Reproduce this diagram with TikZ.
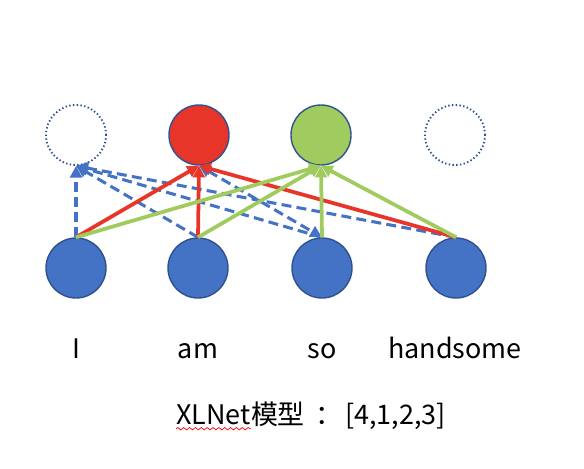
\documentclass[tikz,border=0pt]{standalone}
\usepackage{fontspec}
\setmainfont{Noto Sans CJK SC}
\usetikzlibrary{arrows.meta,decorations.pathmorphing}
\definecolor{tokblue}{HTML}{4472C4}
\definecolor{rimblue}{HTML}{2F528F}
\definecolor{predred}{HTML}{E8352A}
\definecolor{predgreen}{HTML}{A0CB5E}

\begin{document}
\begin{tikzpicture}[
    x=0.03cm, y=-0.03cm,
    tok/.style={circle, minimum size=1.8cm, inner sep=0pt, draw=rimblue, line width=1.2pt},
    hidden/.style={tok, draw=rimblue, dotted, line width=1.6pt},
    word/.style={font=\fontsize{23}{27}\selectfont, anchor=base},
    attn/.style={line width=3.2pt, -{Triangle[length=10pt, width=10pt]}},
    blueline/.style={tokblue, line width=2.6pt, dash pattern=on 8.5pt off 4.5pt,
                     -{Triangle[length=10pt, width=10pt]}}
]
\useasboundingbox (0,0) rectangle (584,468);

% =========================================================
% top row: predictions
% =========================================================
\node[hidden] (t1) at (76,135) {};
\node[tok, fill=predred] (t2) at (199,135) {};
\node[tok, fill=predgreen] (t3) at (321,135) {};
\node[hidden] (t4) at (455,135) {};

% =========================================================
% bottom row: input tokens
% =========================================================
\node[tok, fill=tokblue] (b1) at (76,268) {};
\node[tok, fill=tokblue] (b2) at (198,268) {};
\node[tok, fill=tokblue] (b3) at (322,268) {};
\node[tok, fill=tokblue] (b4) at (456,268) {};

% dashed links into the first position
\draw[blueline] (b1.north) -- (t1.south);
\draw[blueline] (b2.north) -- (t1.south);
\draw[blueline] (b3.north) -- (t1.south);
\draw[blueline] (b4.north) -- (t1.south);
\draw[blueline, {Triangle[length=10pt, width=10pt]}-{Triangle[length=10pt, width=10pt]}]
      (t2.south) -- (b3.north);

% red links
\draw[attn, predred] (b1.north) -- (t2.south);
\draw[attn, predred] (b2.north) -- (t2.south);
\draw[attn, predred] (b4.north) -- (t2.south);

% green links
\draw[attn, predgreen] (b1.north) -- (t3.south);
\draw[attn, predgreen] (b2.north) -- (t3.south);
\draw[attn, predgreen] (b3.north) -- (t3.south);
\draw[attn, predgreen] (b4.north) -- (t3.south);

% words under the tokens
\node[word] (w1) at (76,358) {I};
\node[word] (w2) at (198,358) {am};
\node[word] (w3) at (322,358) {so};
\node[word] (w4) at (455,358) {handsome};

% caption, with the red wavy mark under XLNet
\node[word, anchor=base west, inner sep=0pt] (capxl) at (176,424) {XLNet};
\node[word, anchor=base west, inner sep=0pt] (caprest) at (capxl.base east)
      {模型\hspace{0.4em}：\hspace{0.1em}[4,1,2,3]};
\draw[red, line width=0.6pt, decorate,
      decoration={snake, amplitude=1pt, segment length=5pt}]
      ([yshift=-4pt]capxl.base west) -- ([yshift=-4pt]capxl.base east);

\end{tikzpicture}
\end{document}
